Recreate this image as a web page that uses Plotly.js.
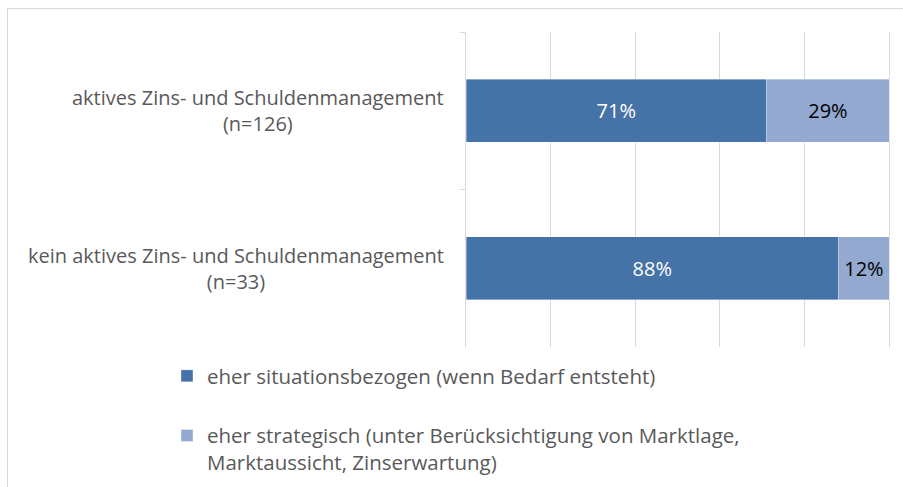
<!DOCTYPE html>
<html>
<head>
<meta charset="utf-8">
<script src="https://cdn.plot.ly/plotly-3.0.1.min.js"></script>
<style>
  html, body { margin: 0; padding: 0; background: #fff; }
  #frame { position: absolute; left: 7px; top: 8px; width: 1200px; height: 1200px; border: 1px solid #d9d9d9; box-sizing: border-box; }
  #chart { position: absolute; left: 0; top: 0; width: 903px; height: 487px; }
</style>
</head>
<body>
<div id="frame"></div>
<div id="chart"></div>
<script>
// Data
const categories = ['aktives Zins- und Schuldenmanagement', 'kein aktives Zins- und Schuldenmanagement'];
const sampleSizes = ['(n=126)', '(n=33)'];
const seriesNames = ['eher situationsbezogen (wenn Bedarf entsteht)',
                     'eher strategisch (unter Berücksichtigung von Marktlage,<br>Marktaussicht, Zinserwartung)'];
const situativ = [0.71, 0.88];
const strategisch = [0.29, 0.12];

const yLabels = categories.map((c, i) => c + '<br>' + sampleSizes[i]);
const FONT = 'Open Sans, sans-serif';

const traces = [
  {
    type: 'bar', orientation: 'h', name: seriesNames[0], legendgroup: 'a',
    y: yLabels, x: situativ,
    marker: { color: '#4572A7', line: { color: 'rgba(255,255,255,0.5)', width: 0.75 } },
    texttemplate: '%{x:.0%}', textposition: 'inside', insidetextanchor: 'middle',
    textfont: { color: '#ffffff', size: 20, family: FONT }, hoverinfo: 'skip'
  },
  {
    type: 'bar', orientation: 'h', name: seriesNames[1], legendgroup: 'b',
    y: yLabels, x: strategisch,
    marker: { color: '#93A9D0', line: { color: 'rgba(255,255,255,0.5)', width: 0.75 } },
    texttemplate: '%{x:.0%}', textposition: 'inside', insidetextanchor: 'middle',
    textfont: { color: '#000000', size: 20, family: FONT }, hoverinfo: 'skip'
  }
];

const annotations = yLabels.map(l => ({
  xref: 'paper', yref: 'y', x: 0, y: l, xanchor: 'right', yanchor: 'middle',
  xshift: -20, text: l, showarrow: false, align: 'center',
  font: { family: FONT, size: 20, color: '#595959' }
}));

const layout = {
  width: 903, height: 487,
  margin: { l: 466, r: 12, t: 32, b: 140, pad: 0, autoexpand: false },
  paper_bgcolor: 'rgba(0,0,0,0)', plot_bgcolor: 'rgba(0,0,0,0)',
  barmode: 'stack', bargap: 0.6,
  font: { family: FONT, color: '#595959', size: 20 },
  xaxis: {
    range: [0, 1.004], tick0: 0, dtick: 0.2, showgrid: true, gridcolor: '#d9d9d9', gridwidth: 1,
    showticklabels: false, zeroline: false, showline: false, ticks: '', fixedrange: true
  },
  yaxis: {
    autorange: 'reversed', showline: true, linecolor: '#d9d9d9', linewidth: 1,
    ticks: 'outside', tickson: 'boundaries', ticklen: 5, tickcolor: '#d9d9d9',
    showticklabels: false, showgrid: false, zeroline: false, fixedrange: true
  },
  showlegend: true,
  legend: {
    orientation: 'v', xref: 'container', yref: 'container',
    x: 167 / 903, xanchor: 'left', y: 1 - 356 / 487, yanchor: 'top',
    traceorder: 'grouped', tracegroupgap: 30, valign: 'top',
    font: { family: FONT, size: 20.5, color: '#595959' }, bgcolor: 'rgba(0,0,0,0)'
  },
  annotations: annotations
};

Plotly.newPlot('chart', traces, layout, { displayModeBar: false, staticPlot: true });
</script>
</body>
</html>
